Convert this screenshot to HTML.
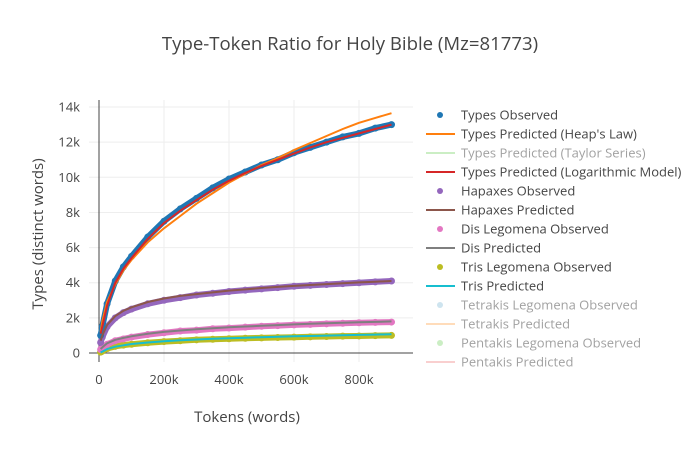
<!DOCTYPE html>
<html><head><meta charset="utf-8"><style>
body{margin:0;background:#fff;font-family:"Liberation Sans",sans-serif}
svg text{font-family:"Open Sans","Liberation Sans",sans-serif}
</style></head><body>
<svg id="c" width="700" height="450">
<rect width="700" height="450" fill="#fff"/>
<text x="350" y="50" text-anchor="middle" font-size="18.6" fill="#444">Type-Token Ratio for Holy Bible (Mz=81773)</text>
<g id="grid"></g><g id="axes"></g><g id="series"></g><g id="legend"></g>
<text x="247" y="422" text-anchor="middle" font-size="15" fill="#444">Tokens (words)</text>
<text transform="translate(43,234) rotate(-90)" text-anchor="middle" font-size="15" fill="#444">Types (distinct words)</text>
</svg>
<script>
const tokens=[5000,10000,25000,50000,75000,100000,150000,200000,250000,300000,350000,400000,450000,500000,550000,600000,650000,700000,750000,800000,850000,900000];
const typesObs=[1000,1500,2800,4100,4900,5500,6600,7500,8200,8800,9400,9900,10300,10700,11000,11400,11700,12000,12300,12500,12800,13000];
const typesHeaps=[1200,1800,2900,3900,4700,5300,6300,7100,7800,8500,9100,9700,10200,10700,11100,11550,11950,12350,12750,13100,13380,13650];
const typesLog=[1100,1500,2700,4000,4800,5400,6500,7400,8100,8700,9300,9800,10250,10650,11000,11350,11700,12000,12250,12500,12750,13000];
const hapObs=[600,900,1500,2000,2300,2500,2800,3000,3150,3300,3400,3500,3580,3650,3720,3800,3850,3900,3950,4000,4050,4100];
const hapPred=[700,1000,1600,2100,2400,2600,2900,3100,3250,3350,3450,3550,3620,3700,3760,3820,3870,3920,3970,4020,4060,4100];
const disObs=[200,300,500,700,800,900,1050,1150,1250,1300,1380,1420,1470,1520,1560,1600,1630,1660,1690,1720,1740,1760];
const disPred=[220,320,550,750,860,950,1100,1200,1280,1350,1410,1460,1510,1550,1590,1630,1660,1690,1720,1750,1770,1800];
const trisObs=[50,100,250,380,450,500,580,650,700,750,780,810,840,860,880,900,920,940,960,970,990,1000];
const trisPred=[30,80,220,360,440,510,600,670,720,770,810,840,870,900,920,950,970,990,1010,1030,1050,1070];
const xTicks=[0,200000,400000,600000,800000];
const xTickLabels=["0","200k","400k","600k","800k"];
const yTicks=[0,2000,4000,6000,8000,10000,12000,14000];
const yTickLabels=["0","2k","4k","6k","8k","10k","12k","14k"];
const legendNames=["Types Observed","Types Predicted (Heap's Law)","Types Predicted (Taylor Series)","Types Predicted (Logarithmic Model)","Hapaxes Observed","Hapaxes Predicted","Dis Legomena Observed","Dis Predicted","Tris Legomena Observed","Tris Predicted","Tetrakis Legomena Observed","Tetrakis Predicted","Pentakis Legomena Observed","Pentakis Predicted"];
const NS="http://www.w3.org/2000/svg";
const X=t=>99+t/200000*65;
const Y=v=>353-v*17.57/1000;
function mk(p,tag,a){const e=document.createElementNS(NS,tag);for(const k in a)e.setAttribute(k,a[k]);p.appendChild(e);return e;}
const grid=document.getElementById('grid'),axes=document.getElementById('axes'),ser=document.getElementById('series'),leg=document.getElementById('legend');
xTicks.forEach((t,i)=>{
 if(t>0){const g=mk(grid,'line',{x1:X(t),x2:X(t),y1:100,y2:362,stroke:'#eee'});
 
 }
 const tx=mk(axes,'text',{x:X(t),y:384,'text-anchor':'middle','font-size':13,fill:'#444'});tx.textContent=xTickLabels[i];
 
 
});
yTicks.forEach((v,i)=>{
 if(v>0){const g=mk(grid,'line',{x1:89,x2:413,y1:Y(v),y2:Y(v),stroke:'#eee'});
 
 }
 const tx=mk(axes,'text',{x:80,y:Y(v)+4.5,'text-anchor':'end','font-size':13,fill:'#444'});tx.textContent=yTickLabels[i];
 
 
});
const za=mk(axes,'line',{x1:89,x2:413,y1:Y(0),y2:Y(0),stroke:'#444'});


const ya=mk(axes,'line',{x1:X(0),x2:X(0),y1:100,y2:362,stroke:'#444'});


function pts(vals){return tokens.map((t,i)=>X(t).toFixed(1)+','+Y(vals[i]).toFixed(1)).join(' ');}
function obs(vals,color,name){
 const g=mk(ser,'g',{});
 
 
 mk(g,'polyline',{points:pts(vals),fill:'none',stroke:color,'stroke-width':6,'stroke-linejoin':'round','stroke-linecap':'round'});
 tokens.forEach((t,i)=>{const c=mk(g,'circle',{cx:X(t),cy:Y(vals[i]),r:3.5,fill:color});
 
 });
}
function line(vals,color,name){
 const l=mk(ser,'polyline',{points:pts(vals),fill:'none',stroke:color,'stroke-width':2,'stroke-linejoin':'round'});
 
 
}
obs(trisObs,'#bcbd22','tris-observed');
obs(disObs,'#e377c2','dis-observed');
obs(hapObs,'#9467bd','hapaxes-observed');
obs(typesObs,'#1f77b4','types-observed');
line(typesHeaps,'#ff7f0e','types-heaps-line');
line(typesLog,'#d62728','types-log-line');
line(hapPred,'#8c564b','hapaxes-predicted-line');
line(disPred,'#7f7f7f','dis-predicted-line');
line(trisPred,'#17becf','tris-predicted-line');
const legColors=['#1f77b4','#ff7f0e','#98df8a','#d62728','#9467bd','#8c564b','#e377c2','#7f7f7f','#bcbd22','#17becf','#9ecae1','#ffbb78','#98df8a','#f4a0a0'];
const legMarker=[1,0,0,0,1,0,1,0,1,0,1,0,1,0];
const legFaded=[0,0,1,0,0,0,0,0,0,0,1,1,1,1];
legendNames.forEach((n,i)=>{
 const y=115+i*19;
 const g=mk(leg,'g',{opacity:legFaded[i]?0.5:1});
 
 
 if(legMarker[i])mk(g,'circle',{cx:440,cy:y,r:3,fill:legColors[i]});
 else mk(g,'line',{x1:426,x2:455,y1:y,y2:y,stroke:legColors[i],'stroke-width':2});
 const t=mk(g,'text',{x:461,y:y+4.5,'font-size':13,fill:'#444'});t.textContent=n;
});
</script>
</body></html>
